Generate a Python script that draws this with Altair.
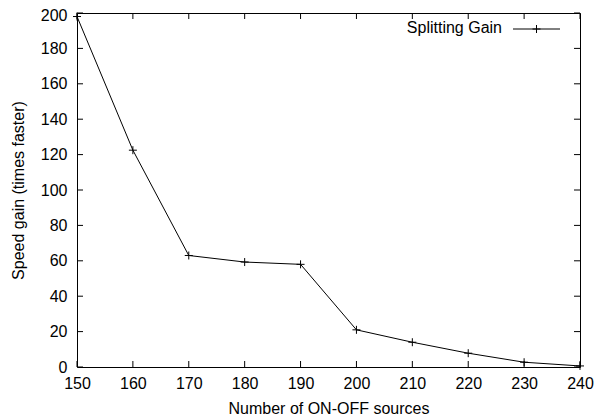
import altair as alt
import pandas as pd

# ---- data ----
sources = [150, 160, 170, 180, 190, 200, 210, 220, 230, 240]
gain = [198, 122.5, 63, 59.3, 58, 21, 14, 7.8, 2.7, 0.6]
x_ticks = [150, 160, 170, 180, 190, 200, 210, 220, 230, 240]
y_ticks = [0, 20, 40, 60, 80, 100, 120, 140, 160, 180, 200]
series_name = "Splitting Gain"
x_title = "Number of ON-OFF sources"
y_title = "Speed gain (times faster)"

df = pd.DataFrame({"x": sources, "y": gain})
xt = pd.DataFrame({"x": x_ticks})
yt = pd.DataFrame({"y": y_ticks})
leg = pd.DataFrame({"label": [series_name]})

W, H = 503, 354
T = 6
FONT = "Liberation Sans"
FS = 16
PLUS = "M-1,0H1M0,-1V1"

xscale = alt.Scale(domain=[150, 240], nice=False, zero=False)
yscale = alt.Scale(domain=[0, 200], nice=False, zero=True)

xaxis = alt.Axis(values=x_ticks, title=x_title, ticks=False, tickSize=0, domain=False,
                 grid=False, labelPadding=8, labelFontSize=FS, labelFont=FONT,
                 labelColor="black", titleFont=FONT, titleFontSize=FS,
                 titleFontWeight="normal", titleColor="black", titlePadding=9,
                 labelFlush=False, labelOverlap=False)
yaxis = alt.Axis(values=y_ticks, title=y_title, ticks=False, tickSize=0, domain=False,
                 grid=False, labelPadding=10, labelFontSize=FS, labelFont=FONT,
                 labelColor="black", titleFont=FONT, titleFontSize=FS,
                 titleFontWeight="normal", titleColor="black", titlePadding=14,
                 labelFlush=False, labelOverlap=False,
                 labelOffset={"condition": {"test": "datum.value == 200", "value": 2.5},
                              "value": 0})

X = alt.X("x:Q", scale=xscale, axis=xaxis)
Y = alt.Y("y:Q", scale=yscale, axis=yaxis)

line = alt.Chart(df).mark_line(color="black", strokeWidth=1).encode(x=X, y=Y)
pts = alt.Chart(df).mark_point(shape=PLUS, size=64, filled=False, color="black",
                               strokeWidth=1, opacity=1).encode(x=X, y=Y)

rule_kw = dict(color="black", strokeWidth=1)
bt = alt.Chart(xt).mark_rule(**rule_kw).encode(x=X, y=alt.value(H), y2=alt.value(H - T))
tt = alt.Chart(xt).mark_rule(**rule_kw).encode(x=X, y=alt.value(0), y2=alt.value(T))
lt = alt.Chart(yt).mark_rule(**rule_kw).encode(y=Y, x=alt.value(0), x2=alt.value(T))
rt = alt.Chart(yt).mark_rule(**rule_kw).encode(y=Y, x=alt.value(W), x2=alt.value(W - T))

leg_text = alt.Chart(leg).mark_text(align="right", baseline="middle", font=FONT,
                                    fontSize=FS, color="black").encode(
    text="label:N", x=alt.value(425), y=alt.value(15))
leg_line = alt.Chart(leg).mark_rule(**rule_kw).encode(
    x=alt.value(436), x2=alt.value(483), y=alt.value(16))
leg_pt = alt.Chart(leg).mark_point(shape=PLUS, size=64, filled=False, color="black",
                                   strokeWidth=1, opacity=1).encode(
    x=alt.value(459.5), y=alt.value(16))

chart = alt.layer(line, pts, bt, tt, lt, rt, leg_text, leg_line, leg_pt).properties(
    width=W, height=H,
    autosize=alt.AutoSizeParams(type="none"),
    padding={"left": 69, "top": 5, "right": 17, "bottom": 50},
    background="white",
).configure_view(stroke="black", strokeWidth=1)

chart.save("out.html", embed_options={"renderer": "svg", "actions": False})
